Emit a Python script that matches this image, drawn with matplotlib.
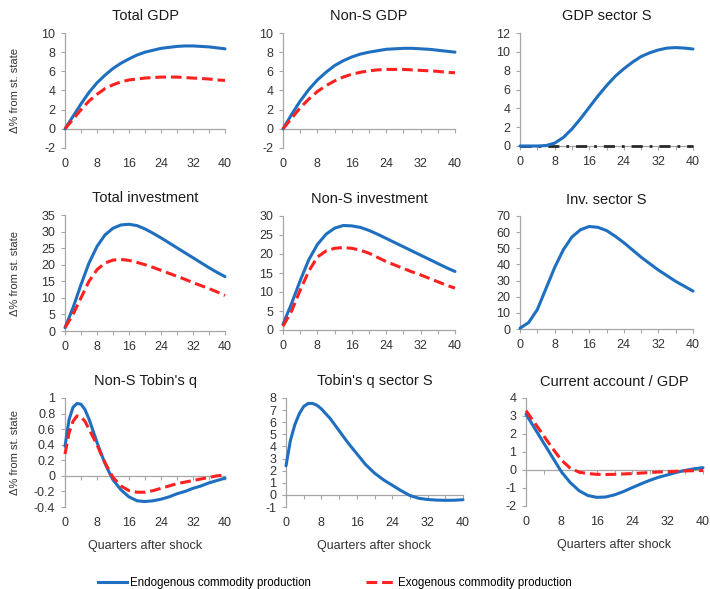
import matplotlib
matplotlib.use("Agg")
import matplotlib.pyplot as plt
from matplotlib.lines import Line2D
import numpy as np

plt.rcParams['font.family'] = ['Liberation Sans', 'DejaVu Sans']
plt.rcParams['axes.unicode_minus'] = False

q2 = list(range(0, 41, 2))
qq = list(range(0, 13)) + list(range(14, 41, 2))

gdp_endo = [0, 1.3, 2.6, 3.8, 4.8, 5.6, 6.3, 6.85, 7.3, 7.7, 8.0, 8.2, 8.4, 8.5, 8.6, 8.65, 8.65, 8.6, 8.55, 8.45, 8.35]
gdp_exo = [0, 1.0, 2.0, 2.9, 3.6, 4.2, 4.6, 4.9, 5.1, 5.2, 5.3, 5.35, 5.4, 5.4, 5.4, 5.35, 5.3, 5.25, 5.2, 5.1, 5.05]

nsgdp_endo = [0, 1.5, 2.9, 4.1, 5.1, 5.9, 6.6, 7.1, 7.5, 7.8, 8.0, 8.15, 8.3, 8.35, 8.4, 8.4, 8.35, 8.3, 8.2, 8.1, 8.0]
nsgdp_exo = [0, 1.1, 2.2, 3.1, 3.9, 4.5, 5.0, 5.4, 5.7, 5.9, 6.05, 6.15, 6.2, 6.2, 6.2, 6.15, 6.1, 6.05, 6.0, 5.9, 5.85]

sgdp_endo = [0, 0, 0, 0.05, 0.3, 0.9, 1.8, 2.9, 4.1, 5.3, 6.4, 7.4, 8.2, 8.9, 9.5, 9.9, 10.2, 10.4, 10.45, 10.4, 10.3]
sgdp_exo = [0] * 21

inv_endo = [1, 7, 14, 20.5, 25.5, 29, 31, 32, 32.2, 31.8, 30.8, 29.5, 28.1, 26.6, 25.1, 23.6, 22.1, 20.6, 19.1, 17.7, 16.4]
inv_exo = [1, 5, 10, 15, 18.5, 20.5, 21.4, 21.6, 21.3, 20.7, 20, 19.2, 18.3, 17.4, 16.5, 15.6, 14.6, 13.7, 12.8, 11.8, 10.7]

nsinv_endo = [1.5, 7, 13, 18.5, 22.5, 25.2, 26.8, 27.5, 27.4, 27, 26.2, 25.2, 24.1, 23, 21.9, 20.8, 19.7, 18.6, 17.5, 16.4, 15.4]
nsinv_exo = [1, 5, 10.5, 15.5, 19.2, 20.8, 21.5, 21.7, 21.5, 21, 20.2, 19.1, 18, 17.1, 16.2, 15.3, 14.5, 13.6, 12.7, 11.8, 11]

sinv_endo = [0.5, 4, 12, 25, 38, 49, 57, 61.5, 63.5, 63, 61, 57.5, 53.5, 49, 44.5, 40.5, 36.5, 33, 29.5, 26.5, 23.5]

nsq_endo = [0.38, 0.72, 0.88, 0.93, 0.92, 0.85, 0.73, 0.58, 0.43, 0.29, 0.16, 0.05, -0.05,
            -0.18, -0.27, -0.32, -0.33, -0.32, -0.3, -0.27, -0.23, -0.2, -0.16, -0.13, -0.09, -0.06, -0.03]
nsq_exo = [0.28, 0.55, 0.7, 0.77, 0.76, 0.7, 0.6, 0.5, 0.4, 0.28, 0.17, 0.07, -0.02,
           -0.13, -0.19, -0.21, -0.21, -0.19, -0.16, -0.13, -0.1, -0.08, -0.06, -0.04, -0.02, 0.0, 0.01]

sq_endo = [2.4, 4.5, 5.8, 6.7, 7.3, 7.55, 7.55, 7.4, 7.1, 6.7, 6.3, 5.8, 5.3,
           4.3, 3.4, 2.5, 1.8, 1.25, 0.8, 0.35, -0.05, -0.28, -0.38, -0.43, -0.45, -0.44, -0.4]

ca_endo = [3.1, 2.3, 1.5, 0.7, -0.1, -0.7, -1.15, -1.42, -1.52, -1.5, -1.38, -1.2, -0.98, -0.77, -0.57, -0.4, -0.27, -0.13, -0.02, 0.07, 0.13]
ca_exo = [3.3, 2.6, 1.9, 1.2, 0.55, 0.1, -0.12, -0.2, -0.24, -0.25, -0.24, -0.22, -0.2, -0.17, -0.14, -0.11, -0.09, -0.07, -0.05, -0.04, -0.03]

BLUE = '#1f6fc0'
RED = '#ff2020'
GREY = '#a6a6a6'
TXT = '#333333'
LW = 2.2
RDASH = (3.5, 1.6)

W, H = 710, 589
fig = plt.figure(figsize=(7.1, 5.89), dpi=100)


def make_ax(l, t, r, b):
    return fig.add_axes([l / W, 1 - b / H, (r - l) / W, (b - t) / H])


panels = [
    ("Total GDP", (65, 33, 225, 148), (-2, 10), 2, [(q2, gdp_endo, 'e'), (q2, gdp_exo, 'x')], True, False),
    ("Non-S GDP", (283, 33, 455, 148), (-2, 10), 2, [(q2, nsgdp_endo, 'e'), (q2, nsgdp_exo, 'x')], False, False),
    ("GDP sector S", (520, 33, 693, 146), (0, 12), 2, [(q2, sgdp_exo, 'z'), (q2, sgdp_endo, 'e')], False, False),
    ("Total investment", (65, 215, 225, 331), (0, 35), 5, [(q2, inv_endo, 'e'), (q2, inv_exo, 'x')], True, False),
    ("Non-S investment", (283, 216, 455, 330), (0, 30), 5, [(q2, nsinv_endo, 'e'), (q2, nsinv_exo, 'x')], False, False),
    ("Inv. sector S", (520, 216, 693, 329), (0, 70), 10, [(q2, sinv_endo, 'e')], False, False),
    ("Non-S Tobin's q", (65, 398, 225, 507), (-0.4, 1.0), 0.2, [(qq, nsq_endo, 'e'), (qq, nsq_exo, 'x')], True, True),
    ("Tobin's q sector S", (286, 398, 463, 507), (-1, 8), 1, [(qq, sq_endo, 'e')], False, True),
    ("Current account / GDP", (526, 398, 703, 506), (-2, 4), 1, [(q2, ca_endo, 'e'), (q2, ca_exo, 'x')], False, True),
]

for title, box, ylim, ystep, series, ylab, xlab in panels:
    ax = make_ax(*box)
    ax.set_xlim(0, 40)
    ax.set_ylim(*ylim)
    for x, y, kind in series:
        if kind == 'e':
            ax.plot(x, y, color=BLUE, lw=LW, solid_capstyle='round', zorder=4, clip_on=False)
        elif kind == 'x':
            ax.plot(x, y, color=RED, lw=LW, dashes=RDASH, zorder=5, clip_on=False)
        else:
            ax.plot(x, y, color='#2a2a2a', lw=2.0, dashes=(4, 2.5, 1, 2.5), zorder=3, clip_on=False)
    for s in ['top', 'right']:
        ax.spines[s].set_visible(False)
    ax.spines['left'].set_color(GREY)
    ax.spines['left'].set_linewidth(0.9)
    ax.spines['bottom'].set_position(('data', 0))
    ax.spines['bottom'].set_color(GREY)
    ax.spines['bottom'].set_linewidth(0.9)
    ax.set_xticks(range(0, 41, 4))
    ax.tick_params(axis='x', direction='out', length=3, color=GREY, labelbottom=False)
    yt = np.round(np.arange(ylim[0], ylim[1] + ystep / 2, ystep), 2)
    ax.set_yticks(yt)
    ax.set_yticklabels([('%g' % v) for v in yt])
    ax.tick_params(axis='y', direction='out', length=3, color=GREY, labelsize=9,
                   labelcolor=TXT, pad=4)
    sec = ax.secondary_xaxis('bottom')
    sec.set_xticks(range(0, 41, 8))
    sec.tick_params(length=0, labelsize=9, labelcolor=TXT, pad=7)
    sec.spines['bottom'].set_visible(False)
    ax.set_title(title, fontsize=10.5, color='#1a1a1a', pad=9)
    if ylab:
        ax.set_ylabel("Δ% from st. state", fontsize=8, color=TXT)
        ax.yaxis.set_label_coords((20 - box[0]) / (box[2] - box[0]), 0.5)
    if xlab:
        sec.set_xlabel("Quarters after shock", fontsize=9, color=TXT, labelpad=8)

kw = dict(frameon=False, fontsize=8.3, handlelength=2.5, handletextpad=0.25,
          borderpad=0, borderaxespad=0, loc='center left')
fig.legend([Line2D([], [], color=BLUE, lw=LW)], ["Endogenous commodity production"],
           bbox_to_anchor=(98 / W, 1 - 583 / H), **kw)
fig.legend([Line2D([], [], color=RED, lw=LW, dashes=RDASH)], ["Exogenous commodity production"],
           bbox_to_anchor=(366 / W, 1 - 583 / H), **kw)

fig.savefig("out.png", dpi=100)
